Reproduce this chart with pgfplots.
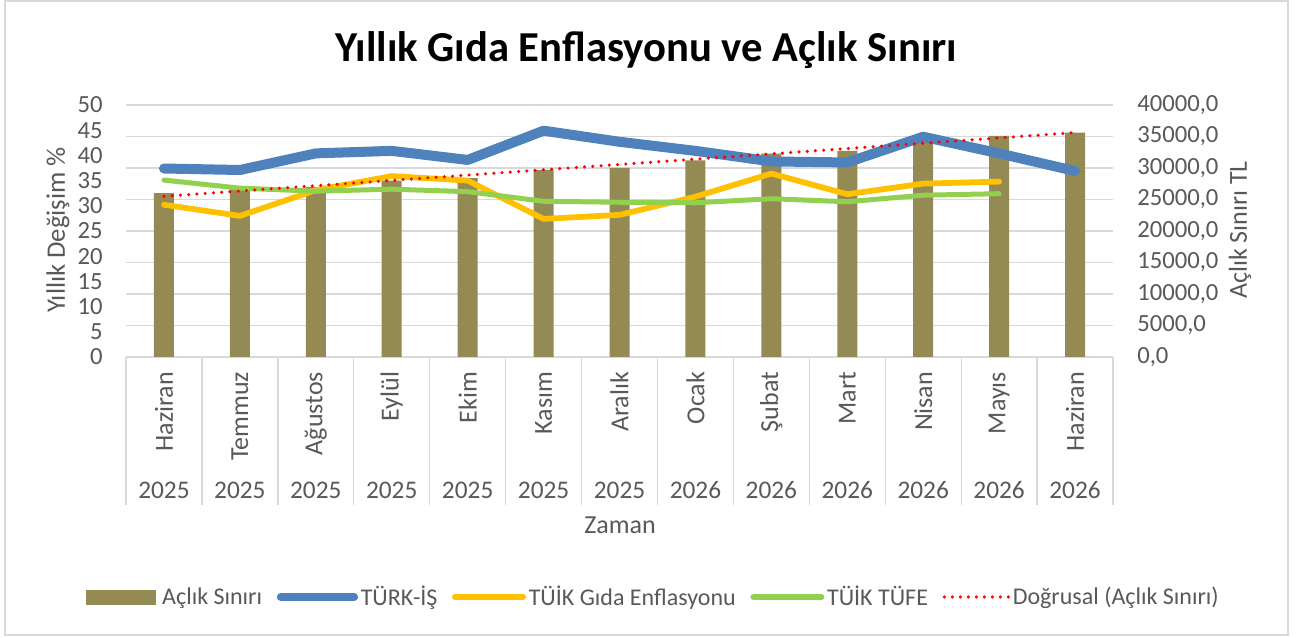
\documentclass[border=0pt]{standalone}
\usepackage{pgfplots}
\usepackage{pgfplotstable}
\pgfplotsset{compat=1.18}
\usepackage{fontspec}
\setmainfont{Carlito}
\definecolor{barc}{HTML}{948A54}
\definecolor{bluec}{HTML}{4F81BD}
\definecolor{yelc}{HTML}{FFC000}
\definecolor{grnc}{HTML}{92D050}
\definecolor{redc}{HTML}{FF0000}
\definecolor{gridc}{HTML}{D9D9D9}
\definecolor{textc}{HTML}{595959}

\pgfplotstableread{
x tl turkis gida tufe
0 26000 37.4 30.2 35.1
1 26700 37.1 28.0 33.5
2 27000 40.4 33.1 32.9
3 28000 40.9 35.9 33.3
4 28400 39.1 35.0 32.8
5 29700 44.9 27.4 30.9
6 30000 42.7 28.2 30.7
7 31200 40.9 31.8 30.6
8 32300 38.8 36.4 31.4
9 32700 38.6 32.3 30.8
10 34600 43.7 34.4 32.1
11 35100 40.4 34.8 32.4
12 35600 36.9 nan nan
}\datatable

\pgfplotsset{
  base/.style={
    at={(94.5pt,210.75pt)}, anchor=south west,
    scale only axis, width=740.25pt, height=189pt,
    xmin=-0.5, xmax=12.5, enlarge x limits=false,
    major tick length=0pt,
    tick label style={font=\fontsize{18.5}{20}\selectfont, text=textc},
    label style={font=\fontsize{19.5}{22}\selectfont, text=textc},
    /pgf/number format/assume math mode=true,
  }
}

\begin{document}
\begin{tikzpicture}
\path[use as bounding box] (0,0) rectangle (978.75pt,478.5pt);
\fill[white] (0,0) rectangle (978.75pt,478.5pt);
\draw[gridc, line width=1pt] (3.75pt,2.25pt) rectangle (966pt,477.75pt);

% bars, right axis
\begin{axis}[base,
  axis y line*=right, axis x line*=bottom,
  ymin=0, ymax=40000, ytick={0,5000,...,40000},
  scaled y ticks=false,
  ymajorgrids, grid style={gridc, line width=1pt},
  y axis line style={draw=none},
  x axis line style={draw=gridc, line width=1pt},
  yticklabel style={/pgf/number format/.cd, fixed, fixed zerofill, precision=1, use comma, 1000 sep={}, /tikz/.cd, anchor=west, inner sep=0pt, xshift=18pt},
  tick align=outside,
  xtick={0,...,12},
  xticklabels={\rotatebox{90}{Haziran},\rotatebox{90}{Temmuz},\rotatebox{90}{Ağustos},\rotatebox{90}{Eylül},\rotatebox{90}{Ekim},\rotatebox{90}{Kasım},\rotatebox{90}{Aralık},\rotatebox{90}{Ocak},\rotatebox{90}{Şubat},\rotatebox{90}{Mart},\rotatebox{90}{Nisan},\rotatebox{90}{Mayıs},\rotatebox{90}{Haziran}},
  xticklabel style={anchor=north, inner sep=0pt, yshift=-11pt, font=\fontsize{19.5}{22}\selectfont},
  extra x ticks={0,...,12},
  extra x tick labels={2025,2025,2025,2025,2025,2025,2025,2026,2026,2026,2026,2026,2026},
  extra x tick style={xticklabel style={anchor=center, yshift=-88.75pt, font=\fontsize{19}{22}\selectfont}},
  minor xtick={-0.5,0.5,...,12.5},
  minor tick length=111pt,
  minor tick style={draw=gridc, line width=1pt},
  xlabel={Zaman},
  xlabel style={at={(axis description cs:0.5005,-0.667)}, anchor=center},
  ylabel={Açlık Sınırı TL},
  ylabel style={at={(axis description cs:1.1287,0.504)}, anchor=center},
  ybar, bar width=15pt,
]
\addplot[fill=barc, draw=none] table[x=x, y=tl] {\datatable};
\end{axis}

% lines, left axis
\begin{axis}[base,
  axis y line*=left, axis x line=none,
  ymin=0, ymax=50, ytick={0,5,...,50},
  y axis line style={draw=none},
  yticklabel style={anchor=east, inner sep=0pt, xshift=-17.25pt},
  ylabel={Yıllık Değişim \%},
  ylabel style={at={(axis description cs:-0.0689,0.504)}, anchor=center, font=\fontsize{20}{22}\selectfont},
]
\addplot[bluec, line width=7.5pt, line join=round, line cap=round] table[x=x, y=turkis] {\datatable};
\addplot[yelc, line width=4.3pt, line join=round, line cap=round] table[x=x, y=gida] {\datatable};
\addplot[grnc, line width=3.75pt, line join=round, line cap=round] table[x=x, y=tufe] {\datatable};
\end{axis}

% trend + legend
\begin{axis}[base,
  hide axis,
  ymin=0, ymax=40000,
  title={Yıllık Gıda Enflasyonu ve Açlık Sınırı},
  title style={at={(axis description cs:0.527,1.187)}, anchor=center, font=\fontsize{32}{36}\selectfont\bfseries, text=black},
  legend columns=5,
  legend style={draw=none, fill=none, at={(0.5345,-0.952)}, anchor=center,
    font=\fontsize{18}{20}\selectfont, text=textc,
    /tikz/every even column/.append style={column sep=9pt}},
]
\addlegendimage{legend image code/.code={\fill[barc] (0pt,-5.25pt) rectangle (52pt,5.25pt);}}
\addlegendentry{\hspace{3pt}Açlık Sınırı}
\addlegendimage{legend image code/.code={\draw[bluec, line width=6pt, line cap=round] (0pt,0pt) -- (55pt,0pt);}}
\addlegendentry{TÜRK-İŞ}
\addlegendimage{legend image code/.code={\draw[yelc, line width=4.5pt, line cap=round] (7pt,0pt) -- (58pt,0pt);}}
\addlegendentry{TÜİK Gıda Enflasyonu}
\addlegendimage{legend image code/.code={\draw[grnc, line width=4.5pt, line cap=round] (2pt,0pt) -- (53pt,0pt);}}
\addlegendentry{TÜİK TÜFE}
\addlegendimage{legend image code/.code={\draw[redc, line width=2.6pt, line cap=round, dash pattern=on 0pt off 6pt] (6pt,0pt) -- (54pt,0pt);}}
\addlegendentry{Doğrusal (Açlık Sınırı)}
\addplot[redc, line width=2.6pt, line cap=round, dash pattern=on 0pt off 6.2pt, forget plot] table[x=x, y={create col/linear regression={y=tl}}] {\datatable};
\end{axis}
\end{tikzpicture}
\end{document}
